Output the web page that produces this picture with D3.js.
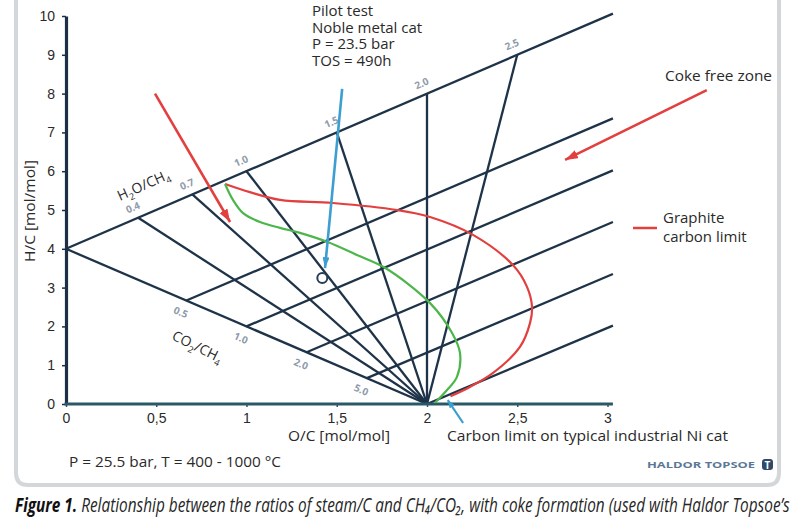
<!DOCTYPE html>
<html>
<head>
<meta charset="utf-8">
<script src="https://cdn.jsdelivr.net/npm/d3@7"></script>
<style>
  body { margin: 0; background: #fff; }
  svg { display: block; font-family: "Open Sans", sans-serif; }
</style>
</head>
<body>
<div id="chart"></div>
<script>
// axis ticks
const xTicks = [0, 0.5, 1, 1.5, 2, 2.5, 3];
const xTickLabels = ["0", "0,5", "1", "1,5", "2", "2,5", "3"];
const yTicks = [0, 1, 2, 3, 4, 5, 6, 7, 8, 9, 10];

// H2O/CH4 ratios along the steam line (O/C, H/C)
const steamLabels = ["0.4", "0.7", "1.0", "1.5", "2.0", "2.5"];
const steamOC = [0.4, 0.7, 1.0, 1.5, 2.0, 2.5];
const steamHC = [4.8, 5.4, 6.0, 7.0, 8.0, 9.0];

// CO2/CH4 ratios along the dry line (O/C, H/C)
const co2Labels = ["0.5", "1.0", "2.0", "5.0"];
const co2OC = [0.667, 1.0, 1.333, 1.667];
const co2HC = [2.667, 2.0, 1.333, 0.667];

// pure methane point and the point every mix line runs to
const ch4Point = [0, 4];
const sinkPoint = [2, 0];

// lines parallel to the steam line (start -> right edge)
const parStartOC = [0, 0.667, 1.0, 1.333, 1.667, 2.0];
const parStartHC = [4, 2.667, 2.0, 1.333, 0.667, 0];
const parEndOC = [3.03, 3.03, 3.03, 3.03, 3.03, 3.03];
const parEndHC = [10.06, 7.36, 6.02, 4.69, 3.35, 2.02];

// graphite carbon limit (red)
const graphiteOC = [0.881, 1.019, 1.186, 1.479, 1.834, 2.017, 2.255, 2.476, 2.554, 2.582, 2.571, 2.515, 2.366, 2.238, 2.13];
const graphiteHC = [5.67, 5.46, 5.26, 5.18, 5.0, 4.82, 4.36, 3.58, 3.02, 2.5, 2.09, 1.47, 0.8, 0.44, 0.2];

// carbon limit on typical industrial Ni cat (green)
const niCatOC = [0.881, 0.925, 0.981, 1.075, 1.186, 1.296, 1.446, 1.612, 1.767, 2.017, 2.139, 2.183, 2.166, 2.111, 2.044];
const niCatHC = [5.67, 5.26, 4.92, 4.69, 4.54, 4.41, 4.18, 3.84, 3.51, 2.6, 1.83, 1.31, 0.7, 0.36, 0.03];

// pilot test point
const pilotOC = [1.42];
const pilotHC = [3.25];

// annotation arrows in data units [fromOC, fromHC, toOC, toHC]
const pilotArrow = [1.53, 8.12, 1.435, 3.5];
const niArrow = [2.2, -0.49, 2.115, 0.1];
const redArrows = [[0.493, 8.0, 0.909, 4.69], [3.55, 8.09, 2.765, 6.29]];

// pilot test note
const pilotNote = ["Pilot test", "Noble metal cat", "P = 23.5 bar", "TOS = 490h"];

var W = 800, H = 520;
var dark = "#1e3348", red = "#e2403f", green = "#4cb64b", blue = "#3c9fd0", grey = "#8e9bab";

var svg = d3.select("#chart").append("svg")
    .attr("width", W)
    .attr("height", H);

var x = d3.scaleLinear().domain([0, 3]).range([66, 607.5]);
var y = d3.scaleLinear().domain([0, 10]).range([404, 16]);

// arrow heads
var defs = svg.append("defs");
function marker(id, color, len, wid) {
    defs.append("marker")
        .attr("id", id)
        .attr("markerUnits", "userSpaceOnUse")
        .attr("markerWidth", len)
        .attr("markerHeight", wid)
        .attr("refX", len)
        .attr("refY", wid / 2)
        .attr("orient", "auto")
        .append("path")
        .attr("d", "M0,0 L" + len + "," + (wid / 2) + " L0," + wid + " Z")
        .attr("fill", color);
}
marker("arrRed", red, 13, 9);
marker("arrBlue", blue, 11, 7);
marker("arrBlueSmall", blue, 8, 6);

// outer frame
svg.append("path")
    .attr("d", "M16,0 V473 Q16,485 28,485 H767 Q779,485 779,473 V0")
    .attr("fill", "none")
    .attr("stroke", "#d4d7da")
    .attr("stroke-width", 4);

// fan lines: methane / steam points to the sink
var fanStarts = [ch4Point].concat(steamOC.map((d, i) => [d, steamHC[i]]));
svg.append("g").selectAll("line")
    .data(fanStarts)
    .enter().append("line")
    .attr("x1", d => x(d[0]))
    .attr("y1", d => y(d[1]))
    .attr("x2", x(sinkPoint[0]))
    .attr("y2", y(sinkPoint[1]))
    .attr("stroke", dark)
    .attr("stroke-width", 2.3);

// parallel steam lines
svg.append("g").selectAll("line")
    .data(parStartOC)
    .enter().append("line")
    .attr("x1", (d, i) => x(d))
    .attr("y1", (d, i) => y(parStartHC[i]))
    .attr("x2", (d, i) => x(parEndOC[i]))
    .attr("y2", (d, i) => y(parEndHC[i]))
    .attr("stroke", dark)
    .attr("stroke-width", 2.3);

// axes
var yAxis = d3.axisLeft(y).tickValues(yTicks).tickSize(4).tickSizeOuter(0).tickPadding(7);
var gy = svg.append("g")
    .attr("transform", "translate(" + x(0) + ",0)")
    .call(yAxis);
gy.select(".domain").attr("stroke", "#1c2f44").attr("stroke-width", 3.2);
gy.selectAll(".tick line").attr("stroke", "#1c2f44").attr("stroke-width", 1.5);
gy.selectAll("text").style("font-size", "14px").attr("fill", "#2a2a2a").style("font-weight", 500);

var xAxis = d3.axisBottom(x).tickValues(xTicks).tickFormat((d, i) => xTickLabels[i])
    .tickSize(3).tickSizeOuter(0).tickPadding(6);
var gx = svg.append("g")
    .attr("transform", "translate(0," + y(0) + ")")
    .call(xAxis);
gx.select(".domain").remove();
gx.selectAll(".tick line").attr("stroke", "#2b5866").attr("stroke-width", 1.5);
gx.selectAll("text").style("font-size", "14px").attr("fill", "#2a2a2a").style("font-weight", 500);
svg.append("line")
    .attr("x1", x(0) - 1.5).attr("x2", x(3.03))
    .attr("y1", y(0)).attr("y2", y(0))
    .attr("stroke", "#2b5866")
    .attr("stroke-width", 3.2);

// ratio labels along the two base lines
var steamAngle = Math.atan2(y(steamHC[5]) - y(ch4Point[1]), x(steamOC[5]) - x(ch4Point[0])) * 180 / Math.PI;
var co2Angle = Math.atan2(y(sinkPoint[1]) - y(ch4Point[1]), x(sinkPoint[0]) - x(ch4Point[0])) * 180 / Math.PI;

svg.append("g").selectAll("text")
    .data(steamLabels)
    .enter().append("text")
    .attr("transform", (d, i) => "translate(" + (x(steamOC[i]) - 4) + "," + (y(steamHC[i]) - 7) + ") rotate(" + steamAngle + ")")
    .attr("text-anchor", "middle")
    .style("font-size", "10px")
    .style("font-weight", 700)
    .attr("fill", grey)
    .text(d => d);

svg.append("g").selectAll("text")
    .data(co2Labels)
    .enter().append("text")
    .attr("transform", (d, i) => "translate(" + (x(co2OC[i]) - 7) + "," + (y(co2HC[i]) + 15) + ") rotate(" + co2Angle + ")")
    .attr("text-anchor", "middle")
    .style("font-size", "10px")
    .style("font-weight", 700)
    .attr("fill", grey)
    .text(d => d);

// line names with subscripts
function ratioLabel(tx, ty, angle, a, sa, b, sb) {
    var t = svg.append("text")
        .attr("transform", "translate(" + tx + "," + ty + ") rotate(" + angle + ")")
        .style("font-size", "14px")
        .attr("fill", "#2a2a2a");
    t.append("tspan").text(a);
    t.append("tspan").attr("dy", 4).style("font-size", "9px").text(sa);
    t.append("tspan").attr("dy", -4).text(b);
    t.append("tspan").attr("dy", 4).style("font-size", "9px").text(sb);
}
ratioLabel(120, 201, steamAngle - 1, "H", "2", "O/CH", "4");
ratioLabel(171, 339, co2Angle + 3, "CO", "2", "/CH", "4");

// carbon limit curves
var line = d3.line()
    .x(d => x(d[0]))
    .y(d => y(d[1]))
    .curve(d3.curveCatmullRom.alpha(0.5));

svg.append("path")
    .datum(graphiteOC.map((d, i) => [d, graphiteHC[i]]))
    .attr("d", line)
    .attr("fill", "none")
    .attr("stroke", red)
    .attr("stroke-width", 2.2);

svg.append("path")
    .datum(niCatOC.map((d, i) => [d, niCatHC[i]]))
    .attr("d", line)
    .attr("fill", "none")
    .attr("stroke", green)
    .attr("stroke-width", 2.2);

// annotation arrows
svg.append("g").selectAll("line")
    .data(redArrows)
    .enter().append("line")
    .attr("x1", d => x(d[0])).attr("y1", d => y(d[1]))
    .attr("x2", d => x(d[2])).attr("y2", d => y(d[3]))
    .attr("stroke", red)
    .attr("stroke-width", 2.6)
    .attr("marker-end", "url(#arrRed)");

svg.append("line")
    .attr("x1", x(pilotArrow[0])).attr("y1", y(pilotArrow[1]))
    .attr("x2", x(pilotArrow[2])).attr("y2", y(pilotArrow[3]))
    .attr("stroke", blue)
    .attr("stroke-width", 2.6)
    .attr("marker-end", "url(#arrBlue)");

svg.append("line")
    .attr("x1", x(niArrow[0])).attr("y1", y(niArrow[1]))
    .attr("x2", x(niArrow[2])).attr("y2", y(niArrow[3]))
    .attr("stroke", blue)
    .attr("stroke-width", 2.2)
    .attr("marker-end", "url(#arrBlueSmall)");

// pilot test point
svg.selectAll("circle.pilot")
    .data(pilotOC)
    .enter().append("circle")
    .attr("class", "pilot")
    .attr("cx", d => x(d))
    .attr("cy", (d, i) => y(pilotHC[i]))
    .attr("r", 5)
    .attr("fill", "none")
    .attr("stroke", "#2a3d52")
    .attr("stroke-width", 2);

// legend for the red curve
svg.append("line")
    .attr("x1", 633).attr("x2", 657)
    .attr("y1", 228).attr("y2", 228)
    .attr("stroke", red)
    .attr("stroke-width", 2.5);

// plain text labels
function label(tx, ty, str, size, len, anchor) {
    var t = svg.append("text")
        .attr("x", tx)
        .attr("y", ty)
        .style("font-size", size + "px")
        .attr("fill", "#2a2a2a")
        .attr("text-anchor", anchor || "start")
        .text(str);
    if (len) t.attr("textLength", len).attr("lengthAdjust", "spacingAndGlyphs");
    return t;
}

// pilot note as one block of lines
var note = svg.append("text")
    .attr("x", 312).attr("y", 16)
    .style("font-size", "15px")
    .attr("fill", "#2a2a2a");
note.selectAll("tspan")
    .data(pilotNote)
    .enter().append("tspan")
    .attr("x", 312)
    .attr("dy", (d, i) => i === 0 ? 0 : 16.7)
    .text(d => d);

label(665, 81, "Coke free zone", 15, 107);
var leg = svg.append("text")
    .attr("x", 663).attr("y", 223)
    .style("font-size", "15px")
    .attr("fill", "#2a2a2a");
leg.append("tspan").attr("x", 663).text("Graphite");
leg.append("tspan").attr("x", 663).attr("dy", 19).text("carbon limit");

label(288, 441, "O/C [mol/mol]", 15, 102);
label(447, 441, "Carbon limit on typical industrial Ni cat", 15, 281);
label(69, 467, "P = 25.5 bar, T = 400 - 1000 °C", 15, 212);

svg.append("text")
    .attr("transform", "translate(35,211) rotate(-90)")
    .attr("text-anchor", "middle")
    .style("font-size", "15px")
    .attr("fill", "#2a2a2a")
    .attr("textLength", 102)
    .attr("lengthAdjust", "spacingAndGlyphs")
    .text("H/C [mol/mol]");

// Haldor Topsoe logo
svg.append("text")
    .attr("x", 647).attr("y", 468)
    .style("font-size", "9px")
    .style("font-weight", 700)
    .attr("fill", "#5a7896")
    .attr("textLength", 108)
    .attr("lengthAdjust", "spacingAndGlyphs")
    .text("HALDOR TOPSOE");
svg.append("rect")
    .attr("x", 762).attr("y", 459)
    .attr("width", 11).attr("height", 11)
    .attr("rx", 3)
    .attr("fill", "#2d4a6a");
svg.append("text")
    .attr("x", 767.5).attr("y", 468.5)
    .attr("text-anchor", "middle")
    .style("font-size", "10px")
    .style("font-weight", 700)
    .attr("fill", "#fff")
    .text("T");

// caption, squeezed horizontally like the condensed original
var cap = svg.append("text")
    .style("font-family", "'Liberation Sans Narrow', 'Open Sans', sans-serif")
    .style("font-size", "20px")
    .style("font-style", "italic")
    .attr("fill", "#262626");
cap.append("tspan").style("font-weight", 700).attr("fill", "#111").text("Figure 1. ");
cap.append("tspan").text("Relationship between the ratios of steam/C and CH\u2084/CO\u2082, with coke formation (used with Haldor Topsoe\u2019s");
var capW = cap.node().getComputedTextLength();
cap.attr("transform", "translate(15,512) scale(" + (775 / capW) + ",1)");
</script>
</body>
</html>
